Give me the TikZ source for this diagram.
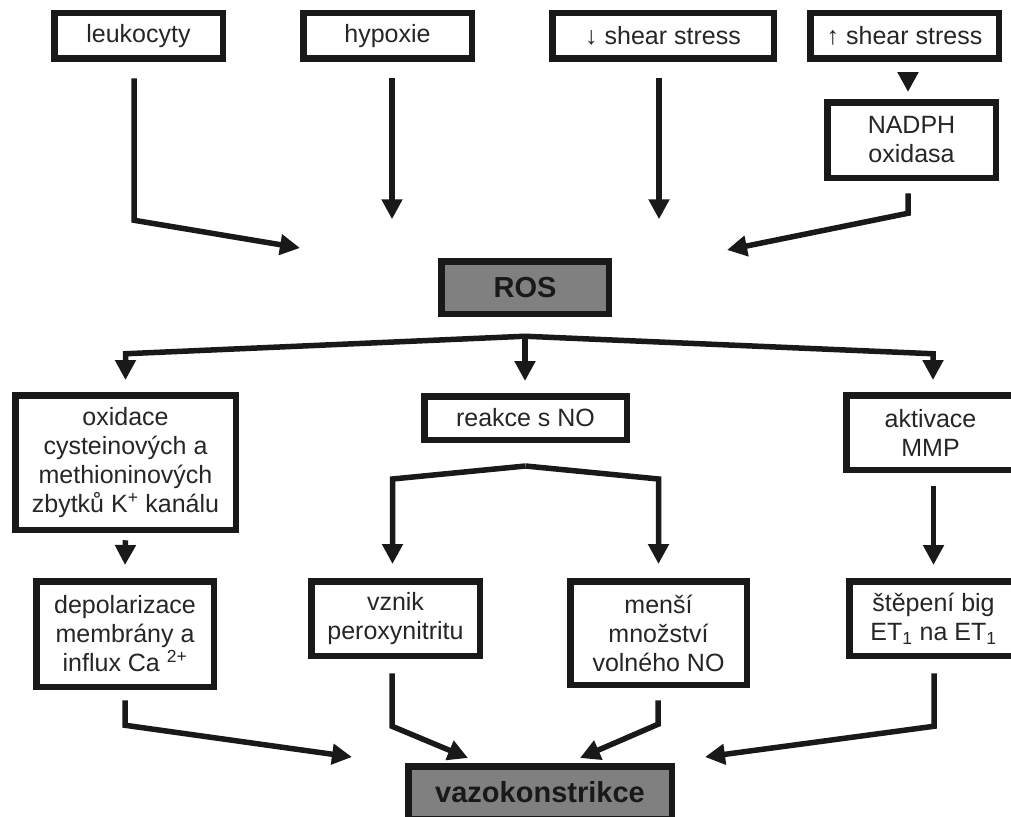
\documentclass[tikz,border=0pt]{standalone}
\usepackage{fontspec}
\setmainfont{Liberation Sans}
\usetikzlibrary{arrows.meta,calc}
\begin{document}
\begin{tikzpicture}[x=1pt,y=-1pt,
  box/.style={draw=black!90,line width=6.5pt,inner sep=0pt,align=center,text=black!85,
    font=\fontsize{25}{29}\selectfont},
  keybox/.style={box,fill=black!50,font=\fontsize{29}{33}\selectfont\bfseries,text=black!90},
  arr/.style={draw=black!90,line width=5.5pt,-{Triangle[width=20pt,length=20pt]}}]
\useasboundingbox (0,0) rectangle (1011,816);
\clip (0,0) rectangle (1011,816);
\fill[white] (0,0) rectangle (1011,816);
% top row
\node[box,minimum width=168.5pt,minimum height=45.5pt] (leu) at (138.5,36) {leukocyty};
\node[box,minimum width=168.5pt,minimum height=45.5pt] (hyp) at (387.5,36) {hypoxie};
\node[box,minimum width=221.5pt,minimum height=45.5pt] (dss) at (663,36) {↓ shear stress};
\node[box,minimum width=188.5pt,minimum height=45.5pt] (uss) at (904.5,36) {↑ shear stress};
\node[box,minimum width=168.5pt,minimum height=75.5pt] (nad) at (911.5,140) {NADPH\\oxidasa};
\node[keybox,minimum width=167.5pt,minimum height=52.5pt] (ros) at (525,287.5) {ROS};
% middle row
\node[box,minimum width=220.5pt,minimum height=134.5pt] (oxi) at (125.5,462.5)
  {oxidace\\cysteinových a\\methioninových\\zbytků K\textsuperscript{+} kanálu};
\node[box,minimum width=202.5pt,minimum height=43.5pt] (rno) at (525.5,418) {reakce s NO};
\node[box,minimum width=168.5pt,minimum height=74.5pt] (mmp) at (930.5,432.5) {aktivace\\MMP};
% bottom row
\node[box,minimum width=177.5pt,minimum height=105.5pt] (dep) at (125,634)
  {depolarizace\\membrány a\\influx Ca \textsuperscript{2+}};
\node[box,minimum width=168.5pt,minimum height=74.5pt] (vzn) at (395.5,618.5) {vznik\\peroxynitritu};
\node[box,minimum width=176.5pt,minimum height=103.5pt] (men) at (658.5,633) {menší\\množství\\volného NO};
\node[box,minimum width=168.5pt,minimum height=74.5pt] (ste) at (933.5,618.5)
  {štěpení big\\ET\textsubscript{1} na ET\textsubscript{1}};
\node[keybox,minimum width=263.5pt,minimum height=52.5pt] (vaz) at (540,792.5) {vazokonstrikce};
% free ends
\coordinate (tL) at (300,248);
\coordinate (tR) at (727,250);
\coordinate (rs) at ([shift={(0,19.25)}]ros.south);
\coordinate (rp) at ([shift={(0,23)}]rno.south);
\coordinate (b1) at (352,757);
\coordinate (b2) at (468,758);
\coordinate (b3) at (580,758);
\coordinate (b4) at (705,757);
% top connectors
\draw[arr] ([shift={(-4.5,16.25)}]leu.south) -- ++(0,142) -- (tL);
\draw[arr] ([shift={(4.5,16.25)}]hyp.south) -- ++(0,141);
\draw[arr] ([shift={(-4,16.25)}]dss.south) -- ++(0,141);
\draw[arr] ([shift={(3.5,11)}]uss.south) -- ([shift={(-3.5,-7)}]nad.north);
\draw[arr] ([shift={(-3.5,12.25)}]nad.south) -- ++(0,20) -- (tR);
% ROS branches
\draw[arr] (rs) -- ([shift={(0,-38.25)}]oxi.north) -- ([shift={(0,-12)}]oxi.north);
\draw[arr] (rs) -- ([shift={(-0.5,-12)}]rno.north);
\draw[arr] (rs) -- ([shift={(2.5,-38.25)}]mmp.north) -- ([shift={(2.5,-12)}]mmp.north);
% middle connectors
\draw[arr] (rp) -- ([shift={(-3,-99)}]vzn.north) -- ([shift={(-3,-14)}]vzn.north);
\draw[arr] (rp) -- ([shift={(0,-99)}]men.north) -- ([shift={(0,-14)}]men.north);
\draw[arr] ([shift={(0,7.25)}]oxi.south) -- ([shift={(0,-13)}]dep.north);
\draw[arr] ([shift={(3,13.25)}]mmp.south) -- ([shift={(0,-13)}]ste.north);
% bottom connectors
\draw[arr] ([shift={(0,10.25)}]dep.south) -- ++(0,25) -- (b1);
\draw[arr] ([shift={(-3.5,14.25)}]vzn.south) -- ++(0,53) -- (b2);
\draw[arr] ([shift={(-0.5,12.25)}]men.south) -- ++(0,24) -- (b3);
\draw[arr] ([shift={(0.5,14.25)}]ste.south) -- ++(0,53) -- (b4);
\end{tikzpicture}
\end{document}
